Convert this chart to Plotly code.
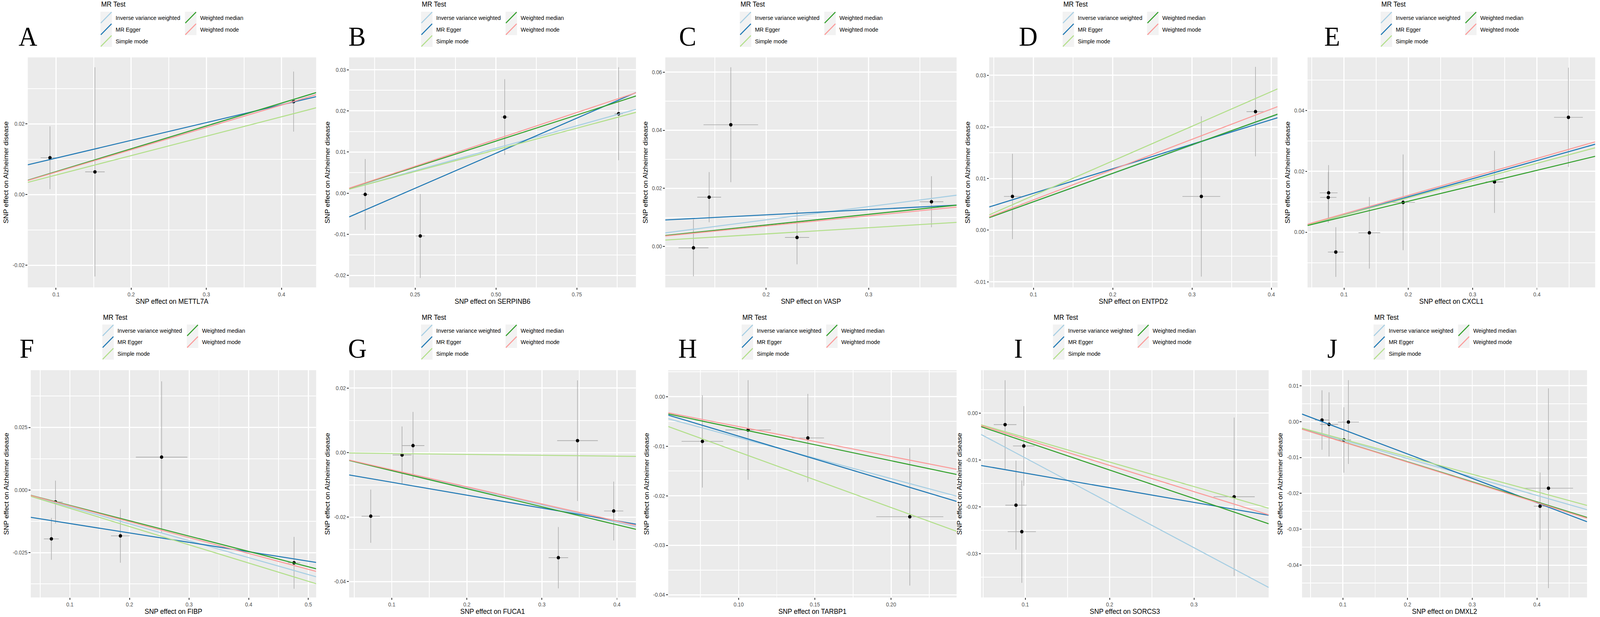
import plotly.graph_objects as go

W, H = 4317, 1580

# ---------------- data ----------------
methods = ["Inverse variance weighted", "MR Egger", "Simple mode", "Weighted median", "Weighted mode"]
method_colors = ["#A6CEE3", "#1F78B4", "#B2DF8A", "#33A02C", "#FB9A99"]
letters = ["A", "B", "C", "D", "E", "F", "G", "H", "I", "J"]
exposures = ["METTL7A", "SERPINB6", "VASP", "ENTPD2", "CXCL1", "FIBP", "FUCA1", "TARBP1", "SORCS3", "DMXL2"]
outcome_label = "SNP effect on Alzheimer disease"

# A: METTL7A
bx_A = [0.092, 0.1518, 0.416]
by_A = [0.0104, 0.0064, 0.0263]
sx_A = [0.0124, 0.013, 0.004]
sy_A = [0.0089, 0.0296, 0.0085]
slope_A = [0.0645, 0.0503, 0.055, 0.0647, 0.0633]
icpt_A = [0, 0.00526, 0, 0, 0]
xr_A = [0.0625, 0.446]; yr_A = [-0.0263, 0.0388]
xt_A = [0.1, 0.2, 0.3, 0.4]; xtl_A = ["0.1", "0.2", "0.3", "0.4"]
yt_A = [-0.02, 0.0, 0.02]; ytl_A = ["-0.02", "0.00", "0.02"]

# B: SERPINB6
bx_B = [0.0959, 0.266, 0.527, 0.879]
by_B = [-0.0003, -0.0104, 0.0185, 0.0193]
sx_B = [0.011, 0.0145, 0.011, 0.0125]
sy_B = [0.0086, 0.0102, 0.0092, 0.0113]
slope_B = [0.02185, 0.0341, 0.02107, 0.02532, 0.02616]
icpt_B = [0, -0.00734, 0, 0, 0]
xr_B = [0.0462, 0.9328]; yr_B = [-0.0229, 0.033]
xt_B = [0.25, 0.5, 0.75]; xtl_B = ["0.25", "0.50", "0.75"]
yt_B = [-0.02, -0.01, 0.0, 0.01, 0.02, 0.03]; ytl_B = ["-0.02", "-0.01", "0.00", "0.01", "0.02", "0.03"]

# C: VASP
bx_C = [0.1291, 0.1444, 0.1655, 0.2301, 0.3612]
by_C = [-0.0005, 0.01695, 0.0419, 0.00307, 0.01537]
sx_C = [0.0146, 0.0116, 0.0266, 0.0118, 0.0116]
sy_C = [0.0098, 0.00865, 0.0198, 0.00925, 0.0088]
slope_C = [0.0457, 0.01802, 0.02144, 0.0368, 0.0351]
icpt_C = [0, 0.00726, 0, 0, 0]
xr_C = [0.1016, 0.3857]; yr_C = [-0.01414, 0.0651]
xt_C = [0.2, 0.3]; xtl_C = ["0.2", "0.3"]
yt_C = [0.0, 0.02, 0.04, 0.06]; ytl_C = ["0.00", "0.02", "0.04", "0.06"]

# D: ENTPD2
bx_D = [0.0735, 0.3117, 0.38]
by_D = [0.00654, 0.00654, 0.02296]
sx_D = [0.0107, 0.0238, 0.0113]
sy_D = [0.00827, 0.01552, 0.00866]
slope_D = [0.0548, 0.0475, 0.0671, 0.0551, 0.05866]
icpt_D = [0, 0.0024, 0, 0, 0]
xr_D = [0.0442, 0.4078]; yr_D = [-0.01108, 0.03346]
xt_D = [0.1, 0.2, 0.3, 0.4]; xtl_D = ["0.1", "0.2", "0.3", "0.4"]
yt_D = [-0.01, 0.0, 0.01, 0.02, 0.03]; ytl_D = ["-0.01", "0.00", "0.01", "0.02", "0.03"]

# E: CXCL1
bx_E = [0.076, 0.0755, 0.0872, 0.1394, 0.1919, 0.334, 0.449]
by_E = [0.01292, 0.01142, -0.00653, -0.0002, 0.00979, 0.01651, 0.03772]
sx_E = [0.0139, 0.0127, 0.0123, 0.0169, 0.0184, 0.0136, 0.0224]
sy_E = [0.0091, 0.00835, 0.00816, 0.01175, 0.01573, 0.0102, 0.0163]
slope_E = [0.0588, 0.0595, 0.0565, 0.0508, 0.0605]
icpt_E = [0, -0.0003, 0, 0, 0]
xr_E = [0.0433, 0.4906]; yr_E = [-0.01814, 0.0574]
xt_E = [0.1, 0.2, 0.3, 0.4]; xtl_E = ["0.1", "0.2", "0.3", "0.4"]
yt_E = [0.0, 0.02, 0.04]; ytl_E = ["0.00", "0.02", "0.04"]

# F: FIBP
bx_F = [0.0689, 0.0758, 0.1847, 0.2538, 0.476]
by_F = [-0.0195, -0.00478, -0.01831, 0.01314, -0.02906]
sx_F = [0.0125, 0.0121, 0.0158, 0.0432, 0.0104]
sy_F = [0.00836, 0.00856, 0.01072, 0.03026, 0.01035]
slope_F = [-0.0675, -0.03757, -0.0729, -0.0613, -0.0633]
icpt_F = [0, -0.00962, 0, 0, 0]
xr_F = [0.0343, 0.5131]; yr_F = [-0.0429, 0.04785]
xt_F = [0.1, 0.2, 0.3, 0.4, 0.5]; xtl_F = ["0.1", "0.2", "0.3", "0.4", "0.5"]
yt_F = [-0.025, 0.0, 0.025]; ytl_F = ["-0.025", "0.000", "0.025"]

# G: FUCA1
bx_G = [0.072, 0.1137, 0.1283, 0.3474, 0.3219, 0.3956]
by_G = [-0.01973, -0.00074, 0.00217, 0.00371, -0.0326, -0.01812]
sx_G = [0.0122, 0.0126, 0.0151, 0.0271, 0.013, 0.0128]
sy_G = [0.00826, 0.00885, 0.01046, 0.01872, 0.00952, 0.00913]
slope_G = [-0.0541, -0.04, -0.00277, -0.056, -0.0531]
icpt_G = [0, -0.0052, 0, 0, 0]
xr_G = [0.0432, 0.4253]; yr_G = [-0.04495, 0.02557]
xt_G = [0.1, 0.2, 0.3, 0.4]; xtl_G = ["0.1", "0.2", "0.3", "0.4"]
yt_G = [-0.04, -0.02, 0.0, 0.02]; ytl_G = ["-0.04", "-0.02", "0.00", "0.02"]

# H: TARBP1
bx_H = [0.0762, 0.1062, 0.1454, 0.2123]
by_H = [-0.00901, -0.00672, -0.00833, -0.02423]
sx_H = [0.01365, 0.0149, 0.0106, 0.022]
sy_H = [0.00932, 0.01006, 0.00889, 0.01388]
slope_H = [-0.0826, -0.0921, -0.1118, -0.0646, -0.0603]
icpt_H = [0, 0.00125, 0, 0, 0]
xr_H = [0.0538, 0.243]; yr_H = [-0.04052, 0.00535]
xt_H = [0.10, 0.15, 0.20]; xtl_H = ["0.10", "0.15", "0.20"]
yt_H = [-0.04, -0.03, -0.02, -0.01, 0.0]; ytl_H = ["-0.04", "-0.03", "-0.02", "-0.01", "0.00"]

# I: SORCS3
bx_I = [0.0761, 0.0983, 0.089, 0.0959, 0.3476]
by_I = [-0.00247, -0.00702, -0.01966, -0.02532, -0.01787]
sx_I = [0.01345, 0.0128, 0.0126, 0.0167, 0.0244]
sy_I = [0.00947, 0.00851, 0.00951, 0.01092, 0.01692]
slope_I = [-0.0958, -0.0312, -0.0523, -0.0608, -0.0559]
icpt_I = [0, -0.0097, 0, 0, 0]
xr_I = [0.0476, 0.3885]; yr_I = [-0.03936, 0.00915]
xt_I = [0.1, 0.2, 0.3]; xtl_I = ["0.1", "0.2", "0.3"]
yt_I = [-0.03, -0.02, -0.01, 0.0]; ytl_I = ["-0.03", "-0.02", "-0.01", "0.00"]

# J: DMXL2
bx_J = [0.0678, 0.0787, 0.1086, 0.1016, 0.4048, 0.4178]
by_J = [0.00044, -0.00078, -0.00011, -0.00511, -0.02356, -0.01856]
sx_J = [0.0109, 0.0139, 0.0163, 0.0112, 0.0096, 0.038]
sy_J = [0.00828, 0.00895, 0.01167, 0.00912, 0.00939, 0.02783]
slope_J = [-0.0514, -0.0681, -0.0489, -0.0559, -0.0564]
icpt_J = [0, 0.00462, 0, 0, 0]
xr_J = [0.0369, 0.4774]; yr_J = [-0.049, 0.01433]
xt_J = [0.1, 0.2, 0.3, 0.4]; xtl_J = ["0.1", "0.2", "0.3", "0.4"]
yt_J = [-0.04, -0.03, -0.02, -0.01, 0.0, 0.01]; ytl_J = ["-0.04", "-0.03", "-0.02", "-0.01", "0.00", "0.01"]

panels = [
    dict(bx=bx_A, by=by_A, sx=sx_A, sy=sy_A, slope=slope_A, icpt=icpt_A, xr=xr_A, yr=yr_A, xt=xt_A, xtl=xtl_A, yt=yt_A, ytl=ytl_A),
    dict(bx=bx_B, by=by_B, sx=sx_B, sy=sy_B, slope=slope_B, icpt=icpt_B, xr=xr_B, yr=yr_B, xt=xt_B, xtl=xtl_B, yt=yt_B, ytl=ytl_B),
    dict(bx=bx_C, by=by_C, sx=sx_C, sy=sy_C, slope=slope_C, icpt=icpt_C, xr=xr_C, yr=yr_C, xt=xt_C, xtl=xtl_C, yt=yt_C, ytl=ytl_C),
    dict(bx=bx_D, by=by_D, sx=sx_D, sy=sy_D, slope=slope_D, icpt=icpt_D, xr=xr_D, yr=yr_D, xt=xt_D, xtl=xtl_D, yt=yt_D, ytl=ytl_D),
    dict(bx=bx_E, by=by_E, sx=sx_E, sy=sy_E, slope=slope_E, icpt=icpt_E, xr=xr_E, yr=yr_E, xt=xt_E, xtl=xtl_E, yt=yt_E, ytl=ytl_E),
    dict(bx=bx_F, by=by_F, sx=sx_F, sy=sy_F, slope=slope_F, icpt=icpt_F, xr=xr_F, yr=yr_F, xt=xt_F, xtl=xtl_F, yt=yt_F, ytl=ytl_F),
    dict(bx=bx_G, by=by_G, sx=sx_G, sy=sy_G, slope=slope_G, icpt=icpt_G, xr=xr_G, yr=yr_G, xt=xt_G, xtl=xtl_G, yt=yt_G, ytl=ytl_G),
    dict(bx=bx_H, by=by_H, sx=sx_H, sy=sy_H, slope=slope_H, icpt=icpt_H, xr=xr_H, yr=yr_H, xt=xt_H, xtl=xtl_H, yt=yt_H, ytl=ytl_H),
    dict(bx=bx_I, by=by_I, sx=sx_I, sy=sy_I, slope=slope_I, icpt=icpt_I, xr=xr_I, yr=yr_I, xt=xt_I, xtl=xtl_I, yt=yt_I, ytl=ytl_I),
    dict(bx=bx_J, by=by_J, sx=sx_J, sy=sy_J, slope=slope_J, icpt=icpt_J, xr=xr_J, yr=yr_J, xt=xt_J, xtl=xtl_J, yt=yt_J, ytl=ytl_J),
]

# ---------------- layout geometry (pixels) ----------------
plot_x = [(75, 853), (942, 1716), (1795, 2581), (2669, 3447), (3528, 4304),
          (83, 853), (942, 1716), (1803, 2581), (2647, 3423), (3513, 4282)]
plot_y = [(147, 736)] * 5 + [(948, 1530)] * 5
letter_x = [75, 963, 1855, 2774, 3594, 72, 964, 1855, 2747, 3594]
letter_y = [94] * 5 + [892] * 5
legend_x = [271, 1136, 1996, 2867, 3725, 276, 1136, 2001, 2841, 3706]
legend_title_y = [11] * 5 + [813] * 5
legend_rows_y = [[45, 75, 105]] * 5 + [[846, 876, 906]] * 5
LEG_COL2 = 228
KEY_W, KEY_H = 31, 30

SANS = "Liberation Sans, Arial, sans-serif"
SERIF = "Liberation Serif, Times New Roman, serif"
ERR = "#A9A9A9"


def px(xp):
    return xp / W


def py(yp):
    return 1 - yp / H


def minor_vals(ticks, rng):
    step = ticks[1] - ticks[0]
    cand = [ticks[0] - step / 2] + [t + step / 2 for t in ticks]
    return [c for c in cand if rng[0] < c < rng[1]]


fig = go.Figure()
shapes = []
annotations = []
layout = {}

for i, p in enumerate(panels):
    sfx = "" if i == 0 else str(i + 1)
    xa, ya = "x" + sfx, "y" + sfx
    x0, x1 = p["xr"]
    fig.add_trace(go.Scatter(
        x=p["bx"], y=p["by"], mode="markers", xaxis=xa, yaxis=ya,
        marker=dict(color="black", size=9),
        error_x=dict(type="data", array=p["sx"], color=ERR, thickness=1.6, width=0),
        error_y=dict(type="data", array=p["sy"], color=ERR, thickness=1.6, width=0),
        showlegend=False, name="SNP", hoverinfo="x+y"))
    for m, col, b, a in zip(methods, method_colors, p["slope"], p["icpt"]):
        fig.add_trace(go.Scatter(
            x=[x0, x1], y=[a + b * x0, a + b * x1], mode="lines",
            xaxis=xa, yaxis=ya, line=dict(color=col, width=2.6),
            name=m, showlegend=False))

    common = dict(showgrid=True, gridcolor="white", gridwidth=3, zeroline=False, showline=False,
                  ticks="outside", ticklen=5, tickwidth=2, tickcolor="#333333",
                  tickfont=dict(family=SANS, size=14, color="#4D4D4D"), tickmode="array")
    layout["xaxis" + sfx] = dict(
        common, domain=[px(plot_x[i][0]), px(plot_x[i][1])], anchor=ya, range=p["xr"],
        tickvals=p["xt"], ticktext=p["xtl"],
        minor=dict(tickmode="array", tickvals=minor_vals(p["xt"], p["xr"]), showgrid=True,
                   gridcolor="white", gridwidth=1.5, ticks=""),
        title=dict(text="SNP effect on " + exposures[i], font=dict(family=SANS, size=18, color="black"),
                   standoff=4))
    layout["yaxis" + sfx] = dict(
        common, domain=[py(plot_y[i][1]), py(plot_y[i][0])], anchor=xa, range=p["yr"],
        tickvals=p["yt"], ticktext=p["ytl"],
        minor=dict(tickmode="array", tickvals=minor_vals(p["yt"], p["yr"]), showgrid=True,
                   gridcolor="white", gridwidth=1.5, ticks=""),
        title=dict(text=outcome_label, font=dict(family=SANS, size=18, color="black"), standoff=6))

    # panel letter
    annotations.append(dict(text=letters[i], x=px(letter_x[i]), y=py(letter_y[i]), xref="paper", yref="paper",
                            showarrow=False, xanchor="center", yanchor="middle",
                            font=dict(family=SERIF, size=70, color="black")))
    # ggplot-style legend: gray keys with diagonal line glyphs, two columns
    lx = legend_x[i]
    annotations.append(dict(text="MR Test", x=px(lx), y=py(legend_title_y[i]), xref="paper", yref="paper",
                            showarrow=False, xanchor="left", yanchor="middle",
                            font=dict(family=SANS, size=18, color="black")))
    for k, (m, col) in enumerate(zip(methods, method_colors)):
        c, r = (0, k) if k < 3 else (1, k - 3)
        kx = lx + c * LEG_COL2
        cy = legend_rows_y[i][r]
        shapes.append(dict(type="rect", xref="paper", yref="paper",
                           x0=px(kx), x1=px(kx + KEY_W), y0=py(cy + KEY_H / 2), y1=py(cy - KEY_H / 2),
                           fillcolor="#F2F2F2", line=dict(width=0), layer="below"))
        shapes.append(dict(type="line", xref="paper", yref="paper",
                           x0=px(kx + 1), x1=px(kx + KEY_W - 1), y0=py(cy + KEY_H / 2 - 1), y1=py(cy - KEY_H / 2 + 1),
                           line=dict(color=col, width=2.6)))
        annotations.append(dict(text=m, x=px(kx + 39), y=py(cy), xref="paper", yref="paper",
                                showarrow=False, xanchor="left", yanchor="middle",
                                font=dict(family=SANS, size=15, color="black")))

fig.update_layout(
    width=W, height=H, margin=dict(l=0, r=0, t=0, b=0),
    paper_bgcolor="white", plot_bgcolor="#EBEBEB",
    font=dict(family=SANS, color="black"),
    showlegend=False, shapes=shapes, annotations=annotations, **layout)

# fit the fixed-size figure exactly into the browser viewport (no page margin / scrollbars)
fit_js = """
(function(){
  var gd = document.getElementById('{plot_id}');
  document.documentElement.style.margin = '0';
  document.documentElement.style.overflow = 'hidden';
  document.body.style.margin = '0';
  document.body.style.overflow = 'hidden';
  function fit(){
    var sx = window.innerWidth / %d, sy = window.innerHeight / %d;
    gd.style.transformOrigin = '0 0';
    gd.style.transform = 'scale(' + sx + ',' + sy + ')';
  }
  fit();
  window.addEventListener('resize', fit);
})();
""" % (W, H)

fig.write_html("out.html", post_script=fit_js, config={"displayModeBar": False})
